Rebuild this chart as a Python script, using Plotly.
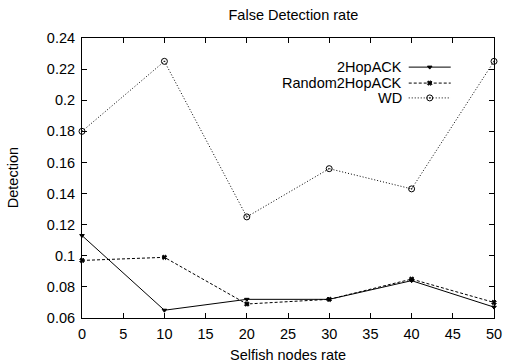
import plotly.graph_objects as go

x_vals = [0, 10, 20, 30, 40, 50]
hop2ack = [0.113, 0.065, 0.072, 0.072, 0.084, 0.067]
random2hop = [0.097, 0.099, 0.069, 0.072, 0.085, 0.070]
wd = [0.180, 0.225, 0.125, 0.156, 0.143, 0.225]
series_names = ["2HopACK", "Random2HopACK", "WD"]
y_ticks = [0.06, 0.08, 0.10, 0.12, 0.14, 0.16, 0.18, 0.20, 0.22, 0.24]
y_tick_labels = ["0.06", "0.08", "0.1", "0.12", "0.14", "0.16", "0.18", "0.2", "0.22", "0.24"]

FONT = "Liberation Sans, Arial, sans-serif"
FS = 14.5
styles = [
    dict(dash="solid", marker=dict(symbol="triangle-down", size=4, color="black",
                                   line=dict(color="black", width=1))),
    dict(dash="3px,2px", marker=dict(symbol="x", size=4, color="black",
                                     line=dict(color="black", width=1))),
    dict(dash="1px,2px", marker=dict(symbol="circle-open-dot", size=6, color="black",
                                     line=dict(color="black", width=1))),
]
values = [hop2ack, random2hop, wd]

fig = go.Figure()
for name, ys, st in zip(series_names, values, styles):
    fig.add_trace(go.Scatter(x=x_vals, y=ys, mode="lines+markers", name=name,
                             line=dict(color="black", width=1, dash=st["dash"]),
                             marker=st["marker"], showlegend=False, cliponaxis=False))

# custom legend (sample on the right, gnuplot style)
leg_y = [0.896, 0.839, 0.786]
for name, st, ly in zip(series_names, styles, leg_y):
    fig.add_trace(go.Scatter(x=[0.793, 0.895], y=[ly, ly], xaxis="x2", yaxis="y2",
                             mode="lines", line=dict(color="black", width=1, dash=st["dash"]),
                             showlegend=False, hoverinfo="skip"))
    fig.add_trace(go.Scatter(x=[0.844], y=[ly], xaxis="x2", yaxis="y2",
                             mode="markers", marker=st["marker"],
                             showlegend=False, hoverinfo="skip"))
    fig.add_annotation(x=0.781, y=ly, xref="paper", yref="paper", text=name,
                       showarrow=False, xanchor="right", yanchor="middle",
                       font=dict(family=FONT, size=FS, color="black"))

# axis titles
fig.add_annotation(x=0.5, y=-0.132, xref="paper", yref="paper", text="Selfish nodes rate",
                   showarrow=False, xanchor="center", yanchor="middle",
                   font=dict(family=FONT, size=FS, color="black"))
fig.add_annotation(x=-0.167, y=0.5, xref="paper", yref="paper", text="Detection",
                   showarrow=False, xanchor="center", yanchor="middle", textangle=-90,
                   font=dict(family=FONT, size=FS, color="black"))

axis_common = dict(showgrid=False, zeroline=False, showline=True, linecolor="black",
                   linewidth=1, mirror="allticks", ticks="inside", ticklen=5,
                   tickcolor="black", tickfont=dict(family=FONT, size=FS, color="black"))

fig.update_layout(
    width=512, height=362,
    margin=dict(l=82, r=10, t=38, b=44),
    plot_bgcolor="white", paper_bgcolor="white",
    title=dict(text="False Detection rate", x=0.573, xanchor="center", y=0.958, yanchor="middle",
               font=dict(family=FONT, size=FS, color="black")),
    xaxis=dict(range=[0, 50], tick0=0, dtick=5, ticklabelstandoff=3, **axis_common),
    yaxis=dict(range=[0.06, 0.24], tickvals=y_ticks, ticktext=y_tick_labels,
               ticklabelstandoff=3, **axis_common),
    xaxis2=dict(domain=[0, 1], range=[0, 1], anchor="y2", overlaying="x", visible=False),
    yaxis2=dict(domain=[0, 1], range=[0, 1], anchor="x2", overlaying="y", visible=False),
    showlegend=False,
)

fig.write_html("out.html")
